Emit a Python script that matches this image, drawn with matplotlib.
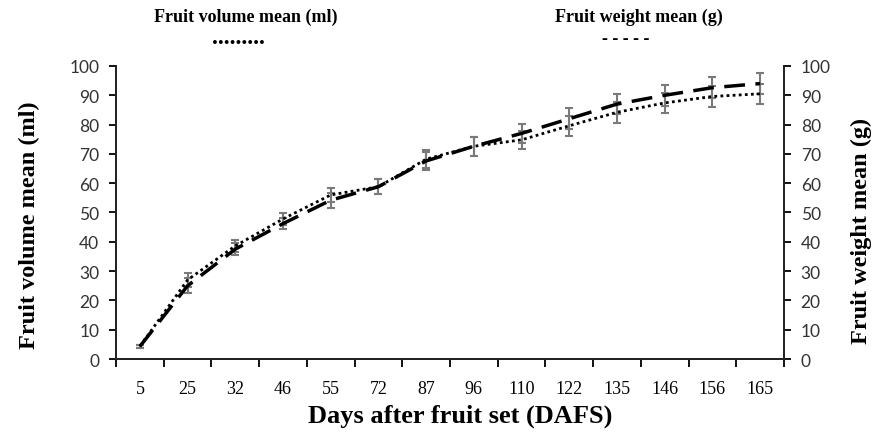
import matplotlib.pyplot as plt
import numpy as np

days = ["5", "25", "32", "46", "55", "72", "87", "96", "110", "122", "135", "146", "156", "165"]
volume = [4.3, 27.0, 38.6, 47.8, 56.0, 58.8, 68.2, 72.6, 74.8, 79.6, 84.2, 87.4, 89.6, 90.5]
volume_err = [0.5, 2.5, 2.0, 2.0, 2.5, 2.5, 3.0, 3.2, 3.0, 3.5, 3.5, 3.5, 3.5, 3.5]
weight = [4.3, 25.0, 37.5, 46.2, 54.2, 58.8, 67.6, 72.6, 77.0, 82.0, 87.0, 90.0, 92.6, 94.0]
weight_err = [0.5, 2.5, 2.0, 2.0, 2.5, 2.5, 3.0, 3.2, 3.2, 3.5, 3.5, 3.5, 3.5, 3.5]

serif = "Liberation Serif"
sans = "Lato"

fig = plt.figure(figsize=(8.75, 4.35), dpi=100)
ax = fig.add_axes([0.1326, 0.1724, 0.7634, 0.6736])
ax2 = ax.twinx()

x = np.arange(len(days))

ax.errorbar(x, volume, yerr=volume_err, color="black", linestyle=(0, (1, 1.2)), lw=2.0,
            ecolor="#7a7a7a", elinewidth=1.5, capsize=3, capthick=1.5, zorder=3)
ax.errorbar(x, weight, yerr=weight_err, color="black", linestyle=(0, (6, 3)), lw=2.5,
            ecolor="#7a7a7a", elinewidth=1.5, capsize=3, capthick=1.5, zorder=3)

for a in (ax, ax2):
    a.set_ylim(0, 100)
    a.set_yticks(np.arange(0, 101, 10))
    a.spines["top"].set_visible(False)
    for s in a.spines.values():
        s.set_linewidth(1.3)
        s.set_color("#222222")
    a.tick_params(axis="y", direction="out", length=5, width=1.3, pad=7,
                  labelsize=12.5, labelcolor="#333333")
    for lab in a.get_yticklabels():
        lab.set_fontfamily(sans)

ax.set_xlim(-0.5, len(days) - 0.5)
ax.set_xticks(x)
ax.set_xticklabels(days, fontfamily=serif, fontsize=13)
ax.set_xticks(np.arange(-0.5, len(days), 1), minor=True)
ax.tick_params(axis="x", which="major", length=0, pad=15)
ax.tick_params(axis="x", which="minor", direction="out", length=6, width=1.3)

fig.text(0.526, 0.044, "Days after fruit set (DAFS)", fontfamily=serif, fontweight="bold",
         fontsize=19, ha="center", va="center")
fig.text(0.034, 0.482, "Fruit volume mean (ml)", fontfamily=serif, fontweight="bold",
         fontsize=17.5, rotation=90, ha="center", va="center")
fig.text(0.985, 0.469, "Fruit weight mean (g)", fontfamily=serif, fontweight="bold",
         fontsize=17.5, rotation=90, ha="center", va="center")

fig.text(0.281, 0.961, "Fruit volume mean (ml)", fontfamily=serif, fontweight="bold", fontsize=13,
         ha="center", va="center")
fig.text(0.272, 0.899, ".........", fontfamily=serif, fontweight="bold", fontsize=17,
         ha="center", va="baseline")
fig.text(0.730, 0.961, "Fruit weight mean (g)", fontfamily=serif, fontweight="bold", fontsize=13,
         ha="center", va="center")
fig.text(0.715, 0.899, "- - - - -", fontfamily=serif, fontweight="bold", fontsize=13,
         ha="center", va="baseline")

fig.savefig("out.png", dpi=100)
